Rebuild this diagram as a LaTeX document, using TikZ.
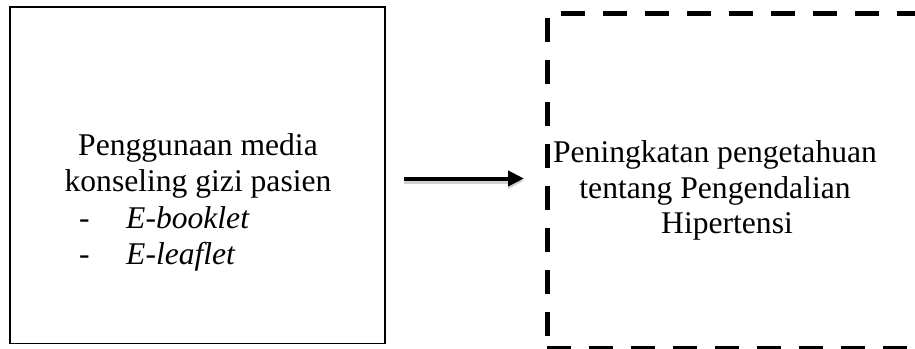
\documentclass[tikz,border=0pt]{standalone}
\usepackage{fontspec}
\setmainfont{Liberation Serif}
\usetikzlibrary{arrows.meta}
\begin{document}
\begin{tikzpicture}[x=1pt,y=-1pt,
  solidbox/.style={draw=black, line width=1.75pt, minimum width=375.6pt, minimum height=336.3pt, inner sep=0pt},
  dashside/.style={draw=black, line width=5pt, dash pattern=on 24pt off 18pt},
  txt/.style={inner sep=0pt, font=\fontsize{31.6}{36.5}\selectfont},
  conn/.style={draw=black, line width=4pt, -{Triangle[length=16pt,width=15pt]},
    preaction={draw=black!18, line width=5pt, -{Triangle[length=16pt,width=15pt]}, transform canvas={yshift=-2.5pt}}}
]
\useasboundingbox (0,0) rectangle (915,348);
\clip (0,0) rectangle (915,348);
\fill[white] (0,0) rectangle (915,348);

% left box
\node[solidbox] (L) at (197.5,175.35) {};
\node[txt, anchor=base] (L1) at (198,155) {Penggunaan media};
\node[txt, anchor=base] (L2) at (198,191.5) {konseling gizi pasien};
\node[txt, anchor=base west] (L3) at (79,228) {\makebox[47pt][l]{-}\textit{E-booklet}};
\node[txt, anchor=base west] (L4) at (79,264) {\makebox[47pt][l]{-}\textit{E-leaflet}};

% right dashed box (partly outside the frame)
\coordinate (Rtl) at (547,13.5);
\coordinate (Rl0) at (547,18);
\coordinate (Rbl) at (547,348.5);
\coordinate (Rt0) at (561,13.5);
\coordinate (Rtr) at (930,13.5);
\coordinate (Rbr) at (930,348.5);
\draw[dashside] (Rl0) -- (Rbl);
\draw[dashside] (Rt0) -- (Rtr);
\draw[dashside] (Rbl) -- (Rbr);

\node[txt, anchor=base] (R1) at (715,162) {Peningkatan pengetahuan};
\node[txt, anchor=base] (R2) at (715,198) {tentang Pengendalian};
\node[txt, anchor=base] (R3) at (727,233.5) {Hipertensi};

% arrow
\coordinate (a1) at (404,178.5);
\coordinate (a2) at (524,178.5);
\draw[conn] (a1) -- (a2);
\end{tikzpicture}
\end{document}
